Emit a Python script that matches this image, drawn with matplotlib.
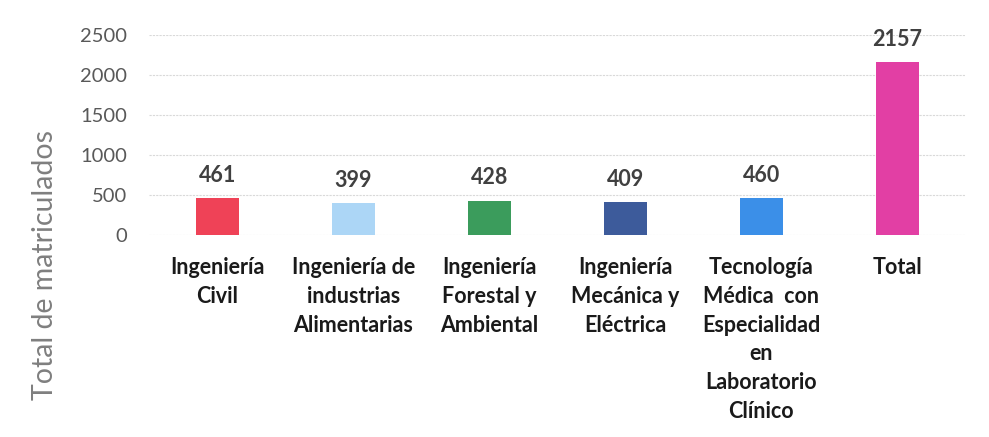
import matplotlib
matplotlib.use("Agg")
import matplotlib.pyplot as plt

categories = ["Ingeniería\nCivil",
              "Ingeniería de\nindustrias\nAlimentarias",
              "Ingeniería\nForestal y\nAmbiental",
              "Ingeniería\nMecánica y\nEléctrica",
              "Tecnología\nMédica  con\nEspecialidad\nen\nLaboratorio\nClínico",
              "Total"]
values = [461, 399, 428, 409, 460, 2157]
colors = ["#ef4257", "#acd6f6", "#3b9c5c", "#3d5b9b", "#3b8fe8", "#e23fa4"]
yticks = [0, 500, 1000, 1500, 2000, 2500]

plt.rcParams["font.family"] = ["Lato", "DejaVu Sans"]

fig = plt.figure(figsize=(9.89, 4.37), dpi=100)
ax = fig.add_axes([0.151, 0.462, 0.825, 0.458])

x = range(len(values))
bars = ax.bar(x, values, width=0.32, color=colors, zorder=3)
for b, v in zip(bars, values):
    ax.annotate(str(v), (b.get_x() + b.get_width() / 2, v), xytext=(0, 9),
                textcoords="offset points", ha="center", va="bottom",
                fontsize=15.5, fontweight="bold", color="#404040")

ax.set_xlim(-0.5, len(values) - 0.5)
ax.set_ylim(0, 2500)
ax.set_yticks(yticks)
ax.tick_params(axis="y", labelsize=14.5, labelcolor="#595959", length=0, pad=16)
ax.tick_params(axis="x", length=0, pad=16)
ax.set_xticks(list(x))
ax.set_xticklabels(categories, fontsize=15.5, fontweight="bold", color="#1a1a1a",
                   linespacing=1.45, va="top")
ax.grid(axis="y", color="#d9d9d9", lw=0.8, ls=(0, (2, 1)), zorder=0)
for s in ax.spines.values():
    s.set_visible(False)

fig.text(0.046, 1 - 265 / 437, "Total de matriculados", rotation=90, ha="center",
         va="center", fontsize=20.5, color="#7f7f7f")

fig.savefig("out.png", dpi=100)
